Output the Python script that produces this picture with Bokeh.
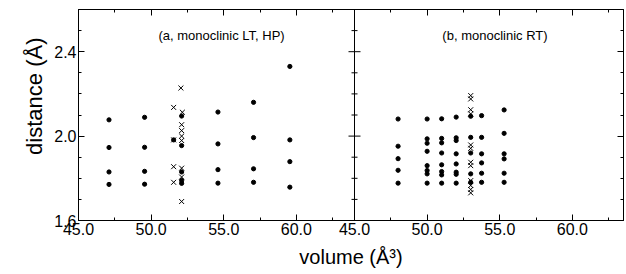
from bokeh.plotting import figure
from bokeh.models import (Range1d, LinearAxis, FixedTicker, CustomJSTickFormatter,
                          Span, Label)
from bokeh.embed import file_html
from bokeh.resources import INLINE

# ---------------- data ----------------
x_ticks = [45.0, 50.0, 55.0, 60.0]
x_minor = [47.5, 52.5, 57.5, 62.5]
y_ticks = [1.6, 2.0, 2.4]
y_minor = [1.7, 1.8, 1.9, 2.1, 2.2, 2.3, 2.5]

title_a = "(a, monoclinic LT, HP)"
title_b = "(b, monoclinic RT)"
x_label = "volume (Å³)"
y_label = "distance (Å)"

# panel a : filled dots
a_dot_x = [47.1, 47.1, 47.1, 47.1,
           49.55, 49.55, 49.55, 49.55,
           51.55,
           52.1, 52.1, 52.1, 52.1, 52.1,
           54.6, 54.6, 54.6, 54.6,
           57.05, 57.05, 57.05, 57.05,
           59.55, 59.55, 59.55, 59.55]
a_dot_y = [2.077, 1.946, 1.830, 1.771,
           2.089, 1.947, 1.833, 1.772,
           1.982,
           2.095, 1.955, 1.830, 1.790, 1.776,
           2.114, 1.963, 1.841, 1.777,
           2.160, 1.993, 1.845, 1.781,
           2.330, 1.982, 1.879, 1.758]
# panel a : crosses
a_x_x = [51.55, 51.55, 51.55, 51.55,
         52.05, 52.15, 52.1, 52.1, 52.1, 52.1, 52.1, 52.1, 52.1]
a_x_y = [2.136, 1.982, 1.855, 1.781,
         2.228, 2.113, 2.054, 2.026, 2.000, 1.979, 1.848, 1.806, 1.690]

# panel b : filled dots
b_dot_x = [48.0, 48.0, 48.0, 48.0, 48.0,
           50.0, 50.0, 50.0, 50.0, 50.0, 50.0, 50.0, 50.0,
           51.0, 51.0, 51.0, 51.0, 51.0, 51.0, 51.0, 51.0,
           52.0, 52.0, 52.0, 52.0, 52.0, 52.0, 52.0, 52.0,
           53.0, 53.0, 53.0, 53.0, 53.0,
           53.75, 53.75, 53.75, 53.75, 53.75, 53.75,
           55.3, 55.3, 55.3, 55.3, 55.3, 55.3]
b_dot_y = [2.081, 1.952, 1.893, 1.838, 1.777,
           2.081, 1.987, 1.966, 1.928, 1.860, 1.837, 1.821, 1.777,
           2.082, 1.989, 1.968, 1.920, 1.864, 1.832, 1.816, 1.777,
           2.090, 1.992, 1.979, 1.916, 1.868, 1.829, 1.819, 1.777,
           2.094, 1.994, 1.920, 1.821, 1.781,
           2.097, 1.994, 1.916, 1.873, 1.824, 1.781,
           2.124, 2.013, 1.916, 1.892, 1.824, 1.781]
# panel b : crosses
b_x_x = [53.0, 53.0, 53.0, 53.0, 53.0, 53.0,
         53.0, 53.0, 53.0, 53.0, 53.0, 53.0]
b_x_y = [2.192, 2.176, 2.125, 2.105, 1.958, 1.942,
         1.876, 1.860, 1.789, 1.766, 1.747, 1.731]

# ---------------- layout constants ----------------
FONT = "Liberation Sans"
FRAME_W, FRAME_H = 545, 211
PANEL_A_PX = 276               # width of panel a in pixels
X0 = 45.0                      # left limit of each panel
SPAN = 19.0                    # data width of panel a
PX = PANEL_A_PX / SPAN         # pixels per unit
X_END = X0 + FRAME_W / PX
SPLIT = X0 + SPAN              # boundary between the panels (in range a)

p = figure(frame_width=FRAME_W, frame_height=FRAME_H,
           x_range=Range1d(X0, X_END), y_range=Range1d(1.6, 2.6),
           x_axis_location=None, y_axis_location=None,
           title=y_label, title_location="left",
           output_backend="svg", toolbar_location=None,
           min_border_left=78, min_border_top=9, min_border_right=1,
           min_border_bottom=10)
p.extra_x_ranges = {"b": Range1d(X0 - SPAN, X_END - SPAN)}
p.outline_line_color = "black"
p.outline_line_width = 1
p.background_fill_color = "white"
p.border_fill_color = "white"
p.xgrid.visible = False
p.ygrid.visible = False
p.grid.visible = False

# y axis title (as a left-hand title so it can sit above the frame centre)
p.title.text_font = FONT
p.title.text_font_size = "22px"
p.title.text_font_style = "normal"
p.title.text_color = "black"
p.title.align = "right"
p.title.offset = 28
p.title.standoff = 9

all_x_ticks = x_ticks + [t + SPAN for t in x_ticks]
all_x_minor = x_minor + [t + SPAN for t in x_minor]


def style(ax, labels=True):
    ax.axis_line_color = "black"
    ax.major_tick_line_color = "black"
    ax.minor_tick_line_color = "black"
    ax.major_tick_in = 6
    ax.major_tick_out = 0
    ax.minor_tick_in = 3
    ax.minor_tick_out = 0
    ax.major_label_text_font = FONT
    ax.major_label_text_color = "black"
    ax.axis_label_text_font = FONT
    ax.axis_label_text_font_style = "normal"
    ax.axis_label_text_color = "black"
    if labels:
        ax.major_label_text_font_size = "16px"
    else:
        ax.major_label_text_font_size = "0px"
        ax.major_label_standoff = 0


fmt = CustomJSTickFormatter(args=dict(split=SPLIT - 0.5, shift=SPAN),
                            code="const v = tick > split ? tick - shift : tick; return v.toFixed(1);")
yfmt = CustomJSTickFormatter(code="return tick.toFixed(1);")
blank = CustomJSTickFormatter(code="return '';")

xb = LinearAxis(ticker=FixedTicker(ticks=all_x_ticks, minor_ticks=all_x_minor),
                formatter=fmt, axis_label=x_label)
style(xb)
xb.major_label_standoff = 2
xb.axis_label_standoff = 8
xb.axis_label_text_font_size = "20px"
p.add_layout(xb, "below")

xt = LinearAxis(ticker=FixedTicker(ticks=all_x_ticks, minor_ticks=all_x_minor),
                formatter=blank)
style(xt, labels=False)
p.add_layout(xt, "above")

yl = LinearAxis(ticker=FixedTicker(ticks=y_ticks, minor_ticks=y_minor),
                formatter=yfmt)
style(yl)
yl.major_label_standoff = 2
p.add_layout(yl, "left")

yr = LinearAxis(ticker=FixedTicker(ticks=y_ticks, minor_ticks=y_minor),
                formatter=blank)
style(yr, labels=False)
p.add_layout(yr, "right")

# dividing line between the panels, with ticks on both sides
p.add_layout(Span(location=SPLIT, dimension="height", line_color="black", line_width=1))
p.scatter(x=[SPLIT] * len(y_ticks), y=y_ticks, marker="dash", size=12,
          line_color="black", line_width=1)
p.scatter(x=[SPLIT] * len(y_minor), y=y_minor, marker="dash", size=6,
          line_color="black", line_width=1)

# data marks
p.scatter(a_dot_x, a_dot_y, marker="circle", size=4.2, fill_color="black", line_color="black")
p.scatter(a_x_x, a_x_y, marker="x", size=7, line_color="black", line_width=1)
p.scatter(b_dot_x, b_dot_y, marker="circle", size=4.2, fill_color="black", line_color="black",
          x_range_name="b")
p.scatter(b_x_x, b_x_y, marker="x", size=7, line_color="black", line_width=1,
          x_range_name="b")

# panel titles
p.add_layout(Label(x=54.85, y=2.476, text=title_a, text_align="center",
                   text_baseline="middle", text_font=FONT, text_font_size="13px",
                   text_color="black"))
p.add_layout(Label(x=54.67, y=2.476, text=title_b, text_align="center",
                   text_baseline="middle", text_font=FONT, text_font_size="13px",
                   text_color="black", x_range_name="b"))

open("out.html", "w").write(file_html(p, INLINE))
